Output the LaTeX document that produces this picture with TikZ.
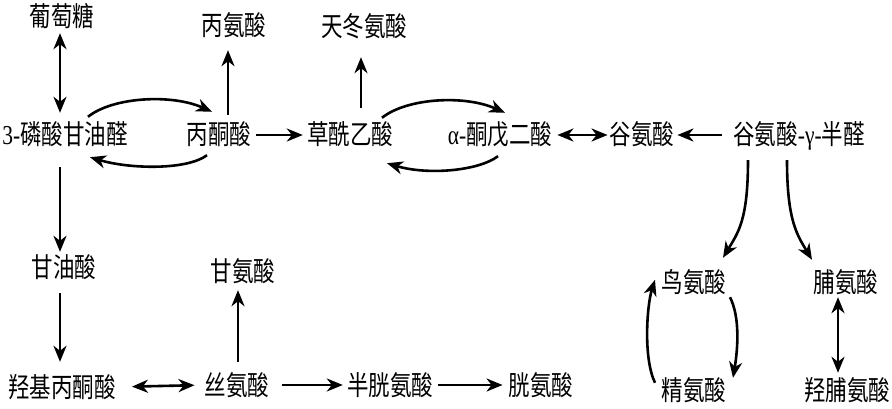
\documentclass[tikz,border=0pt]{standalone}
\usepackage{fontspec}
\setmainfont{Liberation Serif}
\newfontfamily\cjk{Noto Sans CJK SC}
\usetikzlibrary{arrows.meta,calc}
\newcommand{\tall}[1]{\scalebox{1}[1.27]{#1}}
\begin{document}
\begin{tikzpicture}[x=1pt,y=-1pt,
  lab/.style={inner sep=0pt,text height=22pt,text depth=2pt,font=\fontsize{21.5pt}{24pt}\selectfont\cjk},
  ar/.style={line width=2.6pt,-{Stealth[length=16pt,width=13pt,inset=5pt]}},
  dar/.style={line width=2.6pt,{Stealth[length=16pt,width=13pt,inset=5pt]}-{Stealth[length=16pt,width=13pt,inset=5pt]}}]
\useasboundingbox (0,0) rectangle (892,409);
\node[lab] (g) at (62,17) {\tall{葡萄糖}};
\node[lab] (p3) at (65,135) {\tall{{\rmfamily 3-}磷酸甘油醛}};
\node[lab] (pyr) at (219,135) {\tall{丙酮酸}};
\node[lab] (ala) at (234,26) {\tall{丙氨酸}};
\node[lab] (oaa) at (350,135) {\tall{草酰乙酸}};
\node[lab] (asp) at (364,27) {\tall{天冬氨酸}};
\node[lab] (akg) at (500,135) {\tall{{\rmfamily α-}酮戊二酸}};
\node[lab] (glu) at (642,135) {\tall{谷氨酸}};
\node[lab] (gsa) at (799,135) {\tall{谷氨酸{\rmfamily -γ-}半醛}};
\node[lab] (glyc) at (64,267) {\tall{甘油酸}};
\node[lab] (gy) at (243,271) {\tall{甘氨酸}};
\node[lab] (orn) at (694,282) {\tall{鸟氨酸}};
\node[lab] (pro) at (846,282) {\tall{脯氨酸}};
\node[lab] (arg) at (694,390) {\tall{精氨酸}};
\node[lab] (hyp) at (847,390) {\tall{羟脯氨酸}};
\node[lab] (hpy) at (62,387) {\tall{羟基丙酮酸}};
\node[lab] (ser) at (237,385) {\tall{丝氨酸}};
\node[lab] (cys) at (390,385) {\tall{半胱氨酸}};
\node[lab] (cyss) at (541,385) {\tall{胱氨酸}};
% left column
\draw[dar,shorten <=4pt,shorten >=10pt] ([xshift=-2pt]g.south) -- ([xshift=-2pt]g.south |- p3.north);
\draw[ar,shorten <=20pt,shorten >=3pt] ([xshift=-5pt]p3.south) -- ([xshift=-5pt]p3.south |- glyc.north);
\draw[ar,shorten <=14pt,shorten >=13pt] ([xshift=-4pt]glyc.south) -- ([xshift=-4pt]glyc.south |- hpy.north);
% curves p3 <-> pyr
\draw[ar] ($(p3.north)+(23,-6)$) .. controls +(25,-20) and +(-40,-18) .. ($(pyr.north)+(-7,-11)$);
\draw[ar] ($(pyr.south)+(-12,8)$) .. controls +(-20,15) and +(40,12) .. ($(p3.south)+(25,10)$);
% pyruvate
\draw[ar,shorten <=8pt,shorten >=12pt] ([xshift=9pt]pyr.north) -- ([xshift=9pt]pyr.north |- ala.south);
\draw[ar,shorten <=5pt,shorten >=4pt] (pyr.east) -- (oaa.west);
\draw[ar,shorten <=15pt,shorten >=18pt] ([xshift=11pt]oaa.north) -- ([xshift=11pt]oaa.north |- asp.south);
% curves oaa <-> akg
\draw[ar] ($(oaa.north)+(32,-5)$) .. controls +(25,-20) and +(-40,-18) .. ($(akg.north)+(5,-10)$);
\draw[ar] ($(akg.south)+(-2,9)$) .. controls +(-20,15) and +(40,12) .. ($(oaa.south)+(37,16)$);
\draw[dar,shorten <=5pt,shorten >=2pt] (akg.east) -- (glu.west);
\draw[ar,shorten <=11pt,shorten >=3pt] (gsa.west) -- (glu.east);
% right part
\draw[ar] ($(gsa.south)+(-51,13)$) .. controls +(0,60) and +(15,-25) .. ($(orn.north)+(29,-12)$);
\draw[ar] ($(gsa.south)+(-12,13)$) .. controls +(0,60) and +(-15,-25) .. ($(pro.north)+(-34,-10)$);
\draw[ar] ($(orn.south)+(36,3)$) .. controls +(10,20) and +(5,-30) .. ($(arg.north)+(39,0)$);
\draw[ar] ($(arg.north)+(-39,5)$) .. controls +(-12,-25) and +(-8,25) .. ($(orn.north)+(-39,10)$);
\draw[dar,shorten <=3pt,shorten >=5pt] ([xshift=-8pt]pro.south) -- ([xshift=-8pt]pro.south |- hyp.north);
% bottom row
\draw[dar,shorten <=16pt,shorten >=10pt] (hpy.east) -- (ser.west);
\draw[ar,shorten <=11pt,shorten >=7pt] ([xshift=1pt]ser.north) -- ([xshift=1pt]ser.north |- gy.south);
\draw[ar,shorten <=13pt,shorten >=4pt] (ser.east) -- (cys.west);
\draw[ar,shorten <=5pt,shorten >=6pt] (cys.east) -- (cyss.west);
\end{tikzpicture}
\end{document}
